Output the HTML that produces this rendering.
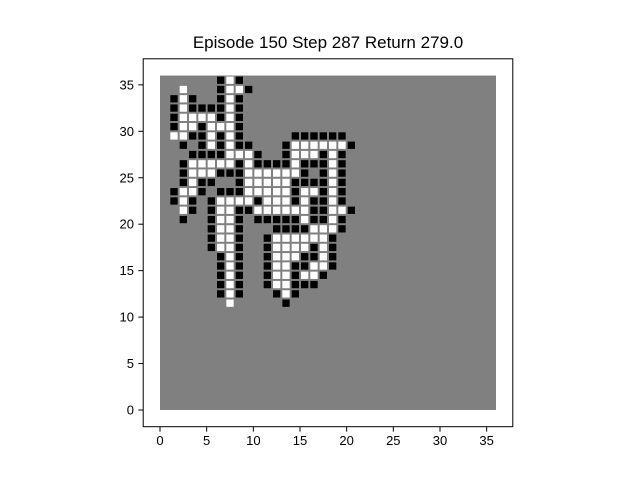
<!DOCTYPE html>
<html><head><meta charset="utf-8"><style>
html,body{margin:0;padding:0;background:#fff;}
svg{display:block;font-family:"Liberation Sans","DejaVu Sans",sans-serif;}
</style></head><body>
<svg id="chart" width="640" height="480" viewBox="0 0 640 480" xmlns="http://www.w3.org/2000/svg">
<rect width="640" height="480" fill="#fff"/>
<text x="328" y="48" text-anchor="middle" font-size="17">Episode 150 Step 287 Return 279.0</text>
<g id="plot"></g>
<g id="axes"></g>
</svg>
<script>
// grid rows from top (row 35) down to row 11; columns 0..21; B=black, W=white, .=empty
const rowStart = 35;
const gridRows = [
"......BWB.............",
"..W...BWWB............",
".BWB..BWB.............",
".BWBBBBWB.............",
".BWWWWBWB.............",
".BWWBWWWB.............",
".WWBBWBWB.....BBBBBB..",
"..B.BWBWBB...BWWWWWWB.",
"...BBBBWWWB..BWWWBWB..",
"..BWWWWWBWBBBBWBBBWB..",
"..BWWWBBBWWWWWWB.BWB..",
"..BWBB..BWWWWWBBBBWB..",
".BWWB.BBBWWWWWBWWBWB..",
".BWB.BWWWWBWWWBWBBWB..",
"..WB.BWWBBWWWWWWBBWWB.",
"..B..BWWB.BBBBBWBBWB..",
".....BWWB...BBBBWWWB..",
".....BWWB..BWWWWWWB...",
".....BWWB..BWWWWBWB...",
"......BWB..BWWWBBWB...",
"......BWB..BWWBBWWB...",
"......BWB..BWWBWWB....",
"......BWB..BWWBBB.....",
"......BWB...BWB.......",
".......W.....B........"
];
const gridSize = 36;
const xTicks = [0,5,10,15,20,25,30,35];
const yTicks = [0,5,10,15,20,25,30,35];

const X0=160, XS=9.333, Y0=410, YS=9.29;
const xs = v => X0 + v*XS;
const ys = v => Y0 - v*YS;
const NS="http://www.w3.org/2000/svg";
const plot=document.getElementById('plot');
const axes=document.getElementById('axes');
function mk(tag,attrs,parent){const e=document.createElementNS(NS,tag);for(const k in attrs)e.setAttribute(k,attrs[k]);parent.appendChild(e);return e;}

const bg=mk('rect',{x:xs(0),y:ys(gridSize),width:xs(gridSize)-xs(0),height:ys(0)-ys(gridSize),fill:'#808080'},plot);



gridRows.forEach((row,i)=>{
  const r=rowStart-i;
  for(let c=0;c<row.length;c++){
    const ch=row[c];
    if(ch==='.')continue;
    const cell=mk('rect',{x:xs(c)+0.5,y:ys(r+1)+0.5,width:XS-1,height:YS-1,fill:ch==='B'?'#000':'#fff',stroke:'#808080','stroke-width':1},plot);
    
    
  }
});

const frame=mk('rect',{x:143.2,y:58.8,width:369.6,height:367.9,fill:'none',stroke:'#000','stroke-width':1},axes);



xTicks.forEach(t=>{
  const x=xs(t);
  mk('line',{x1:x,y1:426.7,x2:x,y2:431.6,stroke:'#000','stroke-width':1},axes);
  const lb=mk('text',{x:x,y:445,'text-anchor':'middle','font-size':13},axes);
  lb.textContent=t;
  
  
});
yTicks.forEach(t=>{
  const y=ys(t);
  mk('line',{x1:143.2,y1:y,x2:138.3,y2:y,stroke:'#000','stroke-width':1},axes);
  const lb=mk('text',{x:134,y:y+4.5,'text-anchor':'end','font-size':13},axes);
  lb.textContent=t;
  
  
});
</script>
</body></html>
